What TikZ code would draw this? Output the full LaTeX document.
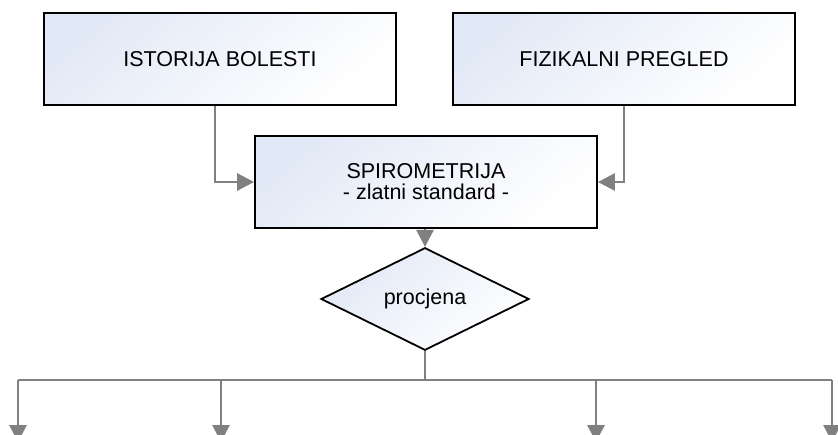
\documentclass[tikz,border=0pt]{standalone}
\usepackage{fontspec}
\setmainfont{Liberation Sans}
\usetikzlibrary{shapes.geometric,arrows.meta}

\definecolor{panelblue}{RGB}{226,233,246}

\tikzset{
  panel/.style={draw=black, line width=1.8pt, rectangle,
    top color=panelblue, bottom color=white, shading angle=40,
    font=\fontsize{21.5}{21}\selectfont, align=center, inner sep=0pt},
  decision/.style={draw=black, line width=1.8pt, diamond,
    top color=panelblue, bottom color=white, shading angle=40,
    minimum width=208pt, minimum height=74pt, inner sep=0pt,
    font=\fontsize{21.5}{24}\selectfont},
  flow/.style={draw=black!50, line width=2.8pt,
    -{Triangle[length=17pt,width=17pt]}},
  link/.style={draw=black!50, line width=2.8pt}
}

\begin{document}
\begin{tikzpicture}[x=1pt,y=-1pt]
  \clip (0,0) rectangle (838,434);
  \fill[white] (0,0) rectangle (838,434);

  % three rectangular stages
  \node[panel, minimum width=352pt, minimum height=92pt] (hist) at (220,59) {ISTORIJA BOLESTI};
  \node[panel, minimum width=342pt, minimum height=92pt] (fiz) at (624,59) {FIZIKALNI PREGLED};
  \node[panel, minimum width=342pt, minimum height=92pt] (spiro) at (426,182)
    {SPIROMETRIJA\\- zlatni standard -};

  % assessment
  \node[decision] (proc) at (425,299) {procjena};

  % inputs into spirometry
  \draw[flow] (hist.south -| 215,0) |- (spiro.west);
  \draw[flow] (fiz.south -| 624,0) |- (spiro.east);
  \draw[flow] (spiro.south -| proc.north) -- (proc.north);

  % branching outcomes
  \coordinate (split) at (425,380);
  \coordinate (o1) at (18,442);
  \coordinate (o2) at (221,442);
  \coordinate (o3) at (596,442);
  \coordinate (o4) at (832,442);
  \draw[link] (proc.south) -- (split);
  \draw[link] (o1 |- split) -- (o4 |- split);
  \draw[flow] (o1 |- split) -- (o1);
  \draw[flow] (o2 |- split) -- (o2);
  \draw[flow] (o3 |- split) -- (o3);
  \draw[flow] (o4 |- split) -- (o4);
\end{tikzpicture}
\end{document}
